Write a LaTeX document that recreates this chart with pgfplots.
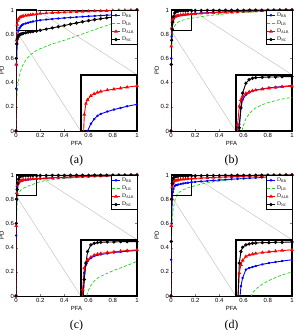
\documentclass[border=0pt]{standalone}
\usepackage{fontspec}
\setmainfont{Liberation Serif}
\setsansfont{Liberation Sans}
\usepackage{pgfplots}
\usepackage{pgfplotstable}
\pgfplotsset{compat=1.18}

% ROC data: probability of false alarm (pfa) and detection for the four detectors
\pgfplotstableread{
pfa   rr    lr    alr   nc
0     0     0     0     0
0.002 0.35  0.15  0.55  0.60
0.005 0.55  0.25  0.75  0.72
0.01  0.72  0.32  0.88  0.76
0.015 0.79  0.37  0.913 0.775
0.02  0.83  0.41  0.925 0.785
0.03  0.852 0.46  0.937 0.795
0.04  0.866 0.50  0.943 0.80
0.05  0.876 0.53  0.947 0.804
0.06  0.882 0.55  0.950 0.807
0.08  0.889 0.585 0.954 0.812
0.10  0.895 0.61  0.957 0.816
0.12  0.900 0.63  0.960 0.819
0.14  0.905 0.645 0.963 0.822
0.17  0.911 0.665 0.967 0.826
0.2   0.915 0.68  0.970 0.832
0.25  0.921 0.70  0.974 0.842
0.3   0.926 0.72  0.977 0.852
0.35  0.930 0.735 0.980 0.862
0.4   0.934 0.75  0.982 0.872
0.45  0.938 0.767 0.984 0.883
0.5   0.941 0.785 0.986 0.893
0.55  0.945 0.802 0.988 0.903
0.6   0.948 0.82  0.989 0.912
0.65  0.951 0.837 0.991 0.920
0.7   0.954 0.855 0.992 0.928
0.75  0.957 0.872 0.994 0.935
0.8   0.960 0.89  0.995 0.942
0.85  0.963 0.915 0.997 0.950
0.9   0.966 0.945 0.998 0.96
0.95  0.975 0.97  0.999 0.975
1.0   1.0   1.0   1.0   1.0
}\rocA

\pgfplotstableread{
pfa   rr    lr    alr   nc
0     0     0     0     0
0.002 0.60  0.45  0.70  0.55
0.005 0.78  0.65  0.85  0.75
0.01  0.85  0.76  0.905 0.84
0.015 0.90  0.81  0.925 0.90
0.02  0.925 0.84  0.935 0.945
0.03  0.94  0.867 0.944 0.975
0.04  0.947 0.882 0.949 0.986
0.05  0.951 0.893 0.952 0.990
0.06  0.954 0.90  0.954 0.992
0.08  0.958 0.91  0.957 0.993
0.10  0.961 0.917 0.960 0.994
0.12  0.963 0.922 0.962 0.994
0.14  0.965 0.927 0.964 0.995
0.17  0.968 0.932 0.966 0.995
0.2   0.971 0.937 0.969 0.996
0.25  0.975 0.945 0.972 0.996
0.3   0.978 0.952 0.975 0.997
0.35  0.981 0.958 0.978 0.997
0.4   0.983 0.963 0.980 0.997
0.45  0.985 0.968 0.982 0.998
0.5   0.987 0.972 0.984 0.998
0.55  0.989 0.976 0.986 0.998
0.6   0.990 0.979 0.988 0.998
0.65  0.992 0.982 0.990 0.999
0.7   0.993 0.985 0.991 0.999
0.75  0.994 0.988 0.993 0.999
0.8   0.995 0.991 0.994 0.999
0.85  0.997 0.994 0.996 1.0
0.9   0.998 0.996 0.997 1.0
0.95  0.999 0.998 0.999 1.0
1.0   1.0   1.0   1.0   1.0
}\rocB

\pgfplotstableread{
pfa   rr    lr    alr   nc
0     0     0     0     0
0.002 0.50  0.40  0.58  0.60
0.005 0.80  0.65  0.85  0.80
0.01  0.90  0.77  0.915 0.88
0.015 0.925 0.82  0.93  0.93
0.02  0.936 0.842 0.94  0.965
0.03  0.945 0.862 0.948 0.985
0.04  0.951 0.875 0.954 0.990
0.05  0.954 0.884 0.957 0.992
0.06  0.956 0.89  0.959 0.993
0.08  0.959 0.899 0.962 0.994
0.10  0.962 0.908 0.964 0.994
0.12  0.964 0.915 0.966 0.995
0.14  0.966 0.923 0.968 0.995
0.17  0.968 0.935 0.970 0.995
0.2   0.970 0.945 0.972 0.996
0.25  0.973 0.955 0.975 0.996
0.3   0.976 0.962 0.978 0.997
0.35  0.978 0.967 0.980 0.997
0.4   0.980 0.972 0.982 0.997
0.45  0.982 0.976 0.984 0.998
0.5   0.984 0.979 0.986 0.998
0.55  0.986 0.982 0.988 0.998
0.6   0.987 0.985 0.989 0.998
0.65  0.989 0.988 0.991 0.999
0.7   0.990 0.99  0.992 0.999
0.75  0.992 0.992 0.993 0.999
0.8   0.993 0.994 0.994 0.999
0.85  0.995 0.996 0.996 1.0
0.9   0.996 0.997 0.997 1.0
0.95  0.998 0.999 0.999 1.0
1.0   1.0   1.0   1.0   1.0
}\rocC

\pgfplotstableread{
pfa   rr    lr    alr   nc
0     0     0     0     0
0.002 0.30  0.30  0.58  0.45
0.005 0.60  0.50  0.80  0.80
0.01  0.80  0.62  0.90  0.93
0.015 0.86  0.69  0.925 0.965
0.02  0.885 0.73  0.938 0.978
0.03  0.91  0.78  0.95  0.985
0.04  0.915 0.815 0.954 0.988
0.05  0.918 0.838 0.957 0.99
0.06  0.921 0.851 0.959 0.991
0.08  0.926 0.866 0.962 0.992
0.10  0.93  0.877 0.964 0.992
0.12  0.933 0.886 0.966 0.993
0.14  0.936 0.894 0.968 0.993
0.17  0.94  0.903 0.97  0.994
0.2   0.943 0.912 0.972 0.994
0.25  0.947 0.925 0.975 0.995
0.3   0.951 0.935 0.978 0.996
0.35  0.955 0.943 0.980 0.996
0.4   0.958 0.95  0.982 0.996
0.45  0.962 0.956 0.984 0.997
0.5   0.965 0.962 0.986 0.997
0.55  0.968 0.967 0.988 0.998
0.6   0.971 0.972 0.989 0.998
0.65  0.974 0.976 0.991 0.998
0.7   0.977 0.98  0.992 0.998
0.75  0.980 0.984 0.993 0.999
0.8   0.983 0.987 0.994 0.999
0.85  0.987 0.991 0.996 1.0
0.9   0.99  0.994 0.997 1.0
0.95  0.995 0.997 0.999 1.0
1.0   1.0   1.0   1.0   1.0
}\rocD

\definecolor{zoomgray}{RGB}{195,195,195}
\definecolor{lrgreen}{RGB}{20,215,20}

\tikzset{
  zoomline/.style={draw=zoomgray, line width=0.5pt},
  zoombox/.style={draw=black, line width=1.1pt},
}

\pgfplotsset{
  rr/.style={blue, line width=0.9pt, mark=asterisk, mark size=1.1pt},
  lr/.style={lrgreen, line width=0.7pt, densely dashed},
  alr/.style={red, line width=0.9pt, mark=triangle, mark size=1.3pt, mark options={solid}},
  nc/.style={black, line width=0.9pt, mark=o, mark size=1.2pt},
  rocmain/.style={
    scale only axis, width=121bp, height=121bp,
    xmin=0, xmax=1, ymin=0, ymax=1,
    xtick={0,0.2,0.4,0.6,0.8,1}, ytick={0,0.2,0.4,0.6,0.8,1},
    /pgf/number format/assume math mode=true,
    tick label style={font=\sffamily\fontsize{6}{6}\selectfont},
    xticklabel style={yshift=1.5pt},
    yticklabel style={xshift=1.5pt},
    label style={font=\sffamily\fontsize{6}{6}\selectfont},
    xlabel=PFA, ylabel=PD,
    xlabel style={yshift=3pt},
    ylabel style={yshift=-5pt},
    tick align=inside, major tick length=2pt,
    axis line style={line width=0.8pt},
    legend cell align=left,
    legend style={at={(1,1)}, anchor=north east,
      font=\fontsize{5.5}{5.5}\selectfont, inner sep=0.6pt,
      row sep=-1pt, draw=black, line width=0.4pt},
    legend image code/.code={%
      \draw[mark repeat=2,mark phase=2,##1] plot coordinates {(0cm,0cm) (0.13cm,0cm) (0.26cm,0cm)};},
  },
  rocinset/.style={
    scale only axis, width=56bp, height=56bp,
    xmin=0, xmax=0.17, ymin=0.83, ymax=1,
    ticks=none, axis line style={line width=1.2pt},
    axis background/.style={fill=white},
  },
}

% one ROC panel: axis name, lower-left position, data table, caption letter
\newcommand\rocpanel[4]{%
  \begin{axis}[rocmain, name=#1, at={#2}, anchor=south west]
    \draw[zoomline] (axis cs:0,0.83) -- (axis cs:0.535,0);
    \draw[zoomline] (axis cs:0.17,1) -- (axis cs:1,0.465);
    \addplot[rr]  table[x=pfa, y=rr]  {#3};
    \addplot[lr]  table[x=pfa, y=lr]  {#3};
    \addplot[alr] table[x=pfa, y=alr] {#3};
    \addplot[nc]  table[x=pfa, y=nc]  {#3};
    \legend{$\mathrm{D}_{\mathrm{RR}}$, $\mathrm{D}_{\mathrm{LR}}$,
            $\mathrm{D}_{\mathrm{ALR}}$, $\mathrm{D}_{\mathrm{NC}}$}
    \draw[zoombox] (axis cs:0,0.83) rectangle (axis cs:0.17,1);
  \end{axis}
  \begin{axis}[rocinset, at={(#1.south east)}, anchor=south east]
    \addplot[rr]  table[x=pfa, y=rr]  {#3};
    \addplot[lr]  table[x=pfa, y=lr]  {#3};
    \addplot[alr] table[x=pfa, y=alr] {#3};
    \addplot[nc]  table[x=pfa, y=nc]  {#3};
  \end{axis}
  \node[font=\fontsize{12}{13}\selectfont] at ([yshift=-30bp]#1.south) {(#4)};
}

\begin{document}
\begin{tikzpicture}
  \useasboundingbox (0,0) rectangle (297bp,330bp);
  \rocpanel{pa}{(16bp,199bp)}{\rocA}{a}
  \rocpanel{pb}{(171bp,199bp)}{\rocB}{b}
  \rocpanel{pc}{(16bp,34bp)}{\rocC}{c}
  \rocpanel{pd}{(171bp,34bp)}{\rocD}{d}
\end{tikzpicture}
\end{document}
